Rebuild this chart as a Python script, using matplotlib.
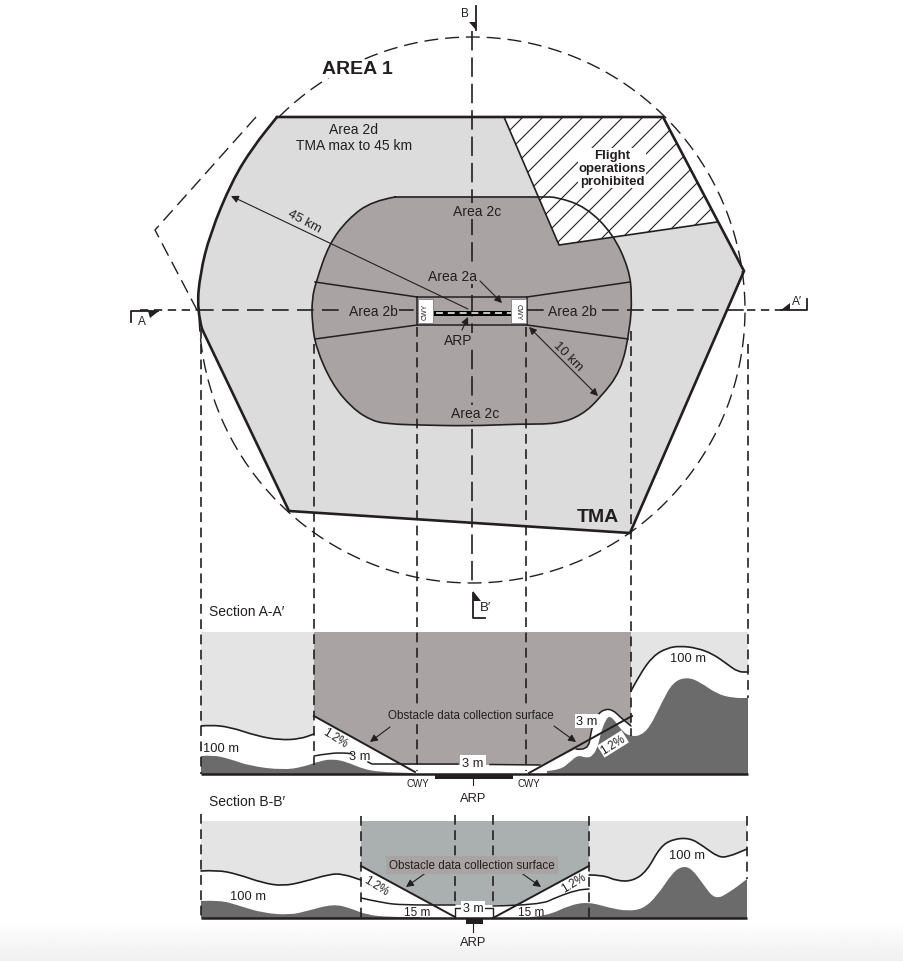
import matplotlib
matplotlib.use('Agg')
import matplotlib.pyplot as plt
import numpy as np
from matplotlib.path import Path
from matplotlib.patches import PathPatch

plt.rcParams['font.family'] = ['Liberation Sans', 'DejaVu Sans']
plt.rcParams['lines.scale_dashes'] = False

INK = '#231f20'
LIGHT = '#dcdcdc'
DARK = '#a9a3a3'
SECTION_LIGHT = '#e4e4e4'
SECTION_B_DARK = '#aab0b0'
TERRAIN = '#6b6b6b'

# plan view, read in image pixels
tma_x = [277, 663, 744, 630, 289, 202, 197, 200, 210, 232, 253, 277]
tma_y = [118, 118, 272, 534, 512, 330, 311, 275, 235, 182, 148, 118]
area1_x = [256, 155, 197]
area1_y = [118, 231, 311]
circle_cx, circle_cy, circle_r = 472, 311, 273
circle_from, circle_to = 225, 540
inner_x = [395, 372, 348, 329, 316, 312, 312, 316, 332, 352, 372, 390, 417, 470, 520, 558,
           582, 600, 621, 630, 632, 629, 613, 586, 557, 543, 395]
inner_y = [198, 202, 220, 245, 283, 300, 323, 349, 385, 409, 422, 425, 426, 427, 425, 425,
           416, 399, 372, 330, 297, 270, 235, 208, 198, 198, 198]
hatch_x = [504, 663, 717, 559]
hatch_y = [118, 118, 223, 246]
hatch_offsets = [x for x in range(541, 1000, 20)]

# section A-A'
a_top, a_base = 633, 775
a_left, a_in_l, a_cwy_l, a_cwy_r, a_in_r, a_right = 201, 314, 417, 526, 631, 748
a_h100_left_x = [201, 210, 230, 257, 280, 300, 314]
a_h100_left_y = [727, 726, 728, 737, 741, 740, 735]
a_ter_left_x = [201, 213, 230, 250, 283, 303, 320, 333, 347, 363, 380, 413]
a_ter_left_y = [757, 756, 760, 767, 771, 768, 762, 760, 763, 770, 773, 774]
a_3m_left_x = [314, 330, 347, 352]
a_3m_left_y = [757, 754, 754, 755]
a_h100_right_x = [631, 640, 653, 667, 680, 697, 713, 727, 738, 748]
a_h100_right_y = [692, 675, 657, 649, 647, 649, 655, 665, 673, 673]
a_ter_right_x = [547, 560, 570, 578, 586, 593, 598, 601, 606, 610, 615, 623, 630, 640, 650, 662,
                 673, 687, 700, 717, 733, 748]
a_ter_right_y = [772, 771, 763, 756, 759, 757, 747, 733, 720, 717, 722, 733, 737, 737, 728, 703,
                 683, 678, 683, 695, 699, 699]
a_band_x = [576, 588, 591, 594, 598, 605, 613, 620, 631]
a_band_y = [750, 752, 733, 722, 715, 710, 711, 718, 727]

# section B-B'
b_top, b_base = 822, 919
b_left, b_in_l, b_mid_l, b_mid_r, b_in_r, b_right = 201, 361, 455, 493, 589, 747
b_h100_left_x = [201, 217, 237, 263, 283, 303, 330, 343, 361]
b_h100_left_y = [872, 871, 875, 884, 887, 883, 875, 875, 881]
b_ter_left_x = [201, 220, 240, 263, 290, 307, 333, 350, 367, 390, 420]
b_ter_left_y = [902, 901, 907, 914, 916, 912, 905, 909, 916, 918, 918]
b_15m_left_x = [361, 383, 403, 455]
b_15m_left_y = [899, 904, 906, 906]
b_15m_right_x = [493, 540, 557, 577, 589]
b_15m_right_y = [907, 906, 898, 891, 890]
b_h100_right_x = [589, 603, 617, 633, 647, 660, 673, 690, 703, 718, 728, 747]
b_h100_right_y = [876, 876, 882, 882, 872, 848, 840, 839, 847, 858, 858, 850]
b_ter_right_x = [530, 547, 570, 589, 610, 627, 643, 657, 673, 683, 692, 703, 715, 730, 747]
b_ter_right_y = [918, 917, 906, 903, 909, 912, 910, 897, 873, 867, 870, 885, 901, 893, 880]


def curve(xs, ys):
    # read points act as quadratic bezier controls, gives smooth terrain lines
    pts = list(zip(xs, ys))
    verts = [pts[0]]
    codes = [Path.MOVETO]
    for i in range(1, len(pts) - 1):
        mid = ((pts[i][0] + pts[i + 1][0]) / 2, (pts[i][1] + pts[i + 1][1]) / 2)
        verts += [pts[i], mid]
        codes += [Path.CURVE3, Path.CURVE3]
    verts.append(pts[-1])
    codes.append(Path.LINETO)
    return verts, codes


def shape(ax, segments, color, z):
    verts, codes = [], []
    for xs, ys in segments:
        v, c = curve(xs, ys)
        if verts:
            c[0] = Path.LINETO
        verts += v
        codes += c
    verts.append(verts[0])
    codes.append(Path.CLOSEPOLY)
    ax.add_patch(PathPatch(Path(verts, codes), facecolor=color, edgecolor='none', zorder=z))


def stroke(ax, xs, ys, lw=1.1, z=6):
    v, c = curve(xs, ys)
    ax.add_patch(PathPatch(Path(v, c), facecolor='none', edgecolor=INK, lw=lw, zorder=z,
                           capstyle='round', joinstyle='round'))


def dashed(ax, xs, ys, on=7, off=4, lw=1.2, z=7):
    ax.plot(xs, ys, color=INK, lw=lw, linestyle=(0, (on, off)), zorder=z)


def arrow(ax, start, end, style='-|>', lw=0.8):
    ax.annotate('', xy=end, xytext=start, zorder=9,
                arrowprops=dict(arrowstyle=style, color=INK, lw=lw, shrinkA=0, shrinkB=0,
                                mutation_scale=11))


def label(ax, x, y, s, size=10, bg=None, rot=0, weight='normal', pad=1.0):
    box = dict(facecolor=bg, edgecolor='none', pad=pad) if bg else None
    ax.text(x, y, s, fontsize=size, color=INK, ha='center', va='center', rotation=rot,
            rotation_mode='anchor', fontweight=weight, bbox=box, zorder=10,
            linespacing=1.1)


def draw_plan(ax):
    ax.fill(tma_x, tma_y, color=LIGHT, lw=0, zorder=1)
    shape(ax, [(inner_x, inner_y)], DARK, 2)

    hatch_patch = ax.fill(hatch_x, hatch_y, facecolor='white', edgecolor='none', zorder=3)[0]
    for x0 in hatch_offsets:
        line, = ax.plot([x0, x0 - 170], [100, 270], color=INK, lw=0.8, zorder=4)
        line.set_clip_path(hatch_patch)
    ax.plot(hatch_x[:1] + hatch_x[3:] + hatch_x[2:3], hatch_y[:1] + hatch_y[3:] + hatch_y[2:3],
            color=INK, lw=1.2, zorder=5)

    stroke(ax, inner_x, inner_y, lw=1.2, z=5)
    ax.plot(tma_x[:6], tma_y[:6], color=INK, lw=1.9, zorder=6, solid_joinstyle='miter')
    stroke(ax, tma_x[5:], tma_y[5:], lw=1.9, z=6)

    t = np.radians(np.linspace(circle_from, circle_to, 400))
    dashed(ax, circle_cx + circle_r * np.cos(t), circle_cy + circle_r * np.sin(t),
           on=10, off=5, lw=1.0, z=5)
    dashed(ax, area1_x, area1_y, on=10, off=5, lw=1.0, z=5)

    # area 2a, 2b
    ax.plot([417, 527, 527, 417, 417], [298, 298, 326, 326, 298], color=INK, lw=1.1, zorder=5)
    ax.plot([315, 417], [283, 298], color=INK, lw=1.1, zorder=5)
    ax.plot([315, 417], [340, 326], color=INK, lw=1.1, zorder=5)
    ax.plot([630, 527], [283, 298], color=INK, lw=1.1, zorder=5)
    ax.plot([628, 527], [340, 326], color=INK, lw=1.1, zorder=5)

    # centre lines
    dashed(ax, [140, 197], [311, 311], on=6, off=4, z=5)
    dashed(ax, [197, 417], [311, 311], on=12, off=6, z=5)
    dashed(ax, [527, 747], [311, 311], on=12, off=6, z=5)
    dashed(ax, [747, 782], [311, 311], on=6, off=4, z=5)
    dashed(ax, [472, 472], [32, 298], on=14, off=5, z=5)
    dashed(ax, [472, 472], [298, 584], on=14, off=5, z=5)

    # runway and clearways
    ax.plot([433, 511], [313.5, 313.5], color='black', lw=3.6, zorder=7, solid_capstyle='butt')
    ax.plot([436, 511], [313.5, 313.5], color='white', lw=1.1, linestyle=(0, (5, 3.5)), zorder=8)
    for x0, rot in [(425.5, 90), (518.5, -90)]:
        ax.text(x0, 312, 'CWY', fontsize=5, color=INK, ha='center', va='center', rotation=rot, zorder=10,
                bbox=dict(facecolor='white', edgecolor='#8a8a8a', lw=0.7,
                          boxstyle='square,pad=0.55'))

    # section markers
    ax.plot([158, 131, 131], [312, 312, 323], color=INK, lw=1.3, zorder=7)
    ax.fill([148, 159, 150], [312, 312, 319], color=INK, lw=0, zorder=7)
    label(ax, 142, 322, 'A', size=8.5)
    ax.plot([781, 807, 807], [311, 311, 300], color=INK, lw=1.3, zorder=7)
    ax.fill([781, 790, 790], [311, 311, 304], color=INK, lw=0, zorder=7)
    label(ax, 797, 302, 'A′', size=8.5)
    ax.plot([476, 476], [7, 31], color=INK, lw=1.3, zorder=7)
    ax.fill([469, 476, 476], [23, 23, 31], color=INK, lw=0, zorder=7)
    label(ax, 465, 14, 'B', size=8.5)
    ax.plot([485, 473, 473], [619, 619, 594], color=INK, lw=1.3, zorder=7)
    ax.fill([473, 481, 473], [602, 602, 592], color=INK, lw=0, zorder=7)
    label(ax, 486, 608, 'B′', size=9.5)

    label(ax, 357, 70, 'AREA 1', size=14, weight='bold', bg='white', pad=0.5)
    label(ax, 598, 518, 'TMA', size=14, weight='bold')
    label(ax, 354, 138, 'Area 2d\nTMA max to 45 km', size=10)
    label(ax, 612, 169, 'Flight\noperations\nprohibited', size=9.5, weight='bold', bg='white', pad=0.5)
    label(ax, 477, 212, 'Area 2c', bg=DARK)
    label(ax, 475, 414, 'Area 2c', bg=DARK)
    label(ax, 453, 277, 'Area 2a', bg=DARK)
    label(ax, 373, 312, 'Area 2b', bg=DARK)
    label(ax, 572, 312, 'Area 2b', bg=DARK)
    label(ax, 458, 341, 'ARP', bg=DARK, size=10, pad=0.3)
    label(ax, 304, 222, '45 km', size=9.5, rot=-28)
    label(ax, 568, 357, '10 km', size=9.5, rot=-45)

    arrow(ax, (468, 310), (231, 197))
    arrow(ax, (480, 282), (502, 304))
    arrow(ax, (462, 331), (468, 318))
    arrow(ax, (529, 328), (598, 397), style='<|-|>')


def draw_section_a(ax):
    ax.fill([a_left, a_in_l, a_in_l, a_left], [a_top, a_top, a_base, a_base], color=SECTION_LIGHT, lw=0, zorder=1)
    ax.fill([a_in_r, a_right, a_right, a_in_r], [a_top, a_top, a_base, a_base], color=SECTION_LIGHT, lw=0, zorder=1)
    ax.fill([a_in_l, a_in_r, a_in_r, a_in_l], [a_top, a_top, a_base, a_base], color=DARK, lw=0, zorder=1)

    # white clearance under the surfaces
    shape(ax, [(a_h100_left_x, a_h100_left_y), ([a_in_l, a_left], [a_base, a_base])], 'white', 2)
    shape(ax, [(a_h100_right_x, a_h100_right_y), ([a_right, a_in_r], [a_base, a_base])], 'white', 2)
    shape(ax, [([314, 402], [717, 766]), ([402, 543], [766, 766]), ([543, 576], [766, 750]),
               (a_band_x, a_band_y), ([631, 314], [a_base, a_base])], 'white', 2)

    shape(ax, [(a_ter_left_x, a_ter_left_y), ([a_ter_left_x[-1], a_left], [a_base, a_base])], TERRAIN, 3)
    shape(ax, [(a_ter_right_x, a_ter_right_y), ([a_right, a_ter_right_x[0]], [a_base, a_base])], TERRAIN, 3)

    stroke(ax, a_h100_left_x, a_h100_left_y, lw=1.2)
    stroke(ax, a_h100_right_x, a_h100_right_y, lw=1.2)
    stroke(ax, a_3m_left_x, a_3m_left_y, lw=1.1)
    stroke(ax, a_band_x, a_band_y, lw=1.1)
    ax.plot([314, 415], [717, 773], color=INK, lw=1.4, zorder=6)
    ax.plot([529, 632], [774, 717], color=INK, lw=1.4, zorder=6)
    ax.plot([368, 372, 458], [763, 765, 765], color=INK, lw=1.1, zorder=6)
    ax.plot([490, 540], [765.5, 766], color=INK, lw=1.1, zorder=6)
    ax.plot([a_left, a_right], [a_base, a_base], color=INK, lw=1.8, zorder=7, solid_capstyle='butt')
    ax.fill([435, 513, 513, 435], [775, 775, 780, 780], color=INK, lw=0, zorder=7)
    ax.plot([473, 473], [780, 786], color=INK, lw=0.8, zorder=7)

    dashed(ax, [a_left, a_left], [330, a_base])
    dashed(ax, [a_in_l, a_in_l], [345, 766])
    dashed(ax, [a_cwy_l, a_cwy_l], [328, 772])
    dashed(ax, [a_cwy_r, a_cwy_r], [328, 772])
    dashed(ax, [a_in_r, a_in_r], [332, 737])
    dashed(ax, [a_right, a_right], [345, 699])

    label(ax, 247, 612, 'Section A-A′', size=10)
    label(ax, 471, 716, 'Obstacle data collection surface', size=8.4, bg=DARK, pad=0.5)
    label(ax, 221, 749, '100 m', size=9.3)
    label(ax, 688, 659, '100 m', size=9.3)
    label(ax, 360, 757, '3 m', size=9.3)
    label(ax, 473, 764, '3 m', size=9.3, bg='white', pad=1.5)
    label(ax, 587, 722, '3 m', size=9.3, bg='white', pad=1)
    label(ax, 335, 739, '1.2%', size=8.5, rot=-32)
    label(ax, 613, 745, '1.2%', size=8.5, rot=32, bg='white', pad=0.8)
    label(ax, 418, 784, 'CWY', size=7)
    label(ax, 529, 784, 'CWY', size=7)
    label(ax, 473, 799, 'ARP', size=9.3)
    arrow(ax, (390, 728), (370, 743))
    arrow(ax, (554, 727), (576, 743))


def draw_section_b(ax):
    ax.fill([b_left, b_in_l, b_in_l, b_left], [b_top, b_top, b_base, b_base], color=SECTION_LIGHT, lw=0, zorder=1)
    ax.fill([b_in_r, b_right, b_right, b_in_r], [b_top, b_top, b_base, b_base], color=SECTION_LIGHT, lw=0, zorder=1)
    ax.fill([b_in_l, b_in_r, b_in_r, b_in_l], [b_top, b_top, b_base, b_base], color=SECTION_B_DARK, lw=0, zorder=1)

    shape(ax, [(b_h100_left_x, b_h100_left_y), ([b_in_l, b_left], [b_base, b_base])], 'white', 2)
    shape(ax, [(b_h100_right_x, b_h100_right_y), ([b_right, b_in_r], [b_base, b_base])], 'white', 2)
    ax.fill([361, 433, 517, 589, 589, 361], [867, 906, 906, 867, b_base, b_base], color='white', lw=0, zorder=2)

    shape(ax, [(b_ter_left_x, b_ter_left_y), ([b_ter_left_x[-1], b_left], [b_base, b_base])], TERRAIN, 3)
    shape(ax, [(b_ter_right_x, b_ter_right_y), ([b_right, b_ter_right_x[0]], [b_base, b_base])], TERRAIN, 3)

    stroke(ax, b_h100_left_x, b_h100_left_y, lw=1.2)
    stroke(ax, b_h100_right_x, b_h100_right_y, lw=1.2)
    stroke(ax, b_15m_left_x, b_15m_left_y, lw=1.1)
    stroke(ax, b_15m_right_x, b_15m_right_y, lw=1.1)
    ax.plot([361, 455], [867, 918], color=INK, lw=1.4, zorder=6)
    ax.plot([493, 589], [919, 867], color=INK, lw=1.4, zorder=6)
    ax.plot([455, 455, 463], [b_base, 909, 909], color=INK, lw=1.0, zorder=6)
    ax.plot([485, 493, 493], [909, 909, b_base], color=INK, lw=1.0, zorder=6)
    ax.plot([b_left, b_right], [b_base, b_base], color=INK, lw=1.8, zorder=7, solid_capstyle='butt')
    ax.fill([466, 483, 483, 466], [919, 919, 925, 925], color=INK, lw=0, zorder=7)
    ax.plot([473, 473], [925, 933], color=INK, lw=0.8, zorder=7)

    dashed(ax, [b_left, b_left], [815, b_base])
    dashed(ax, [b_in_l, b_in_l], [817, b_base])
    dashed(ax, [b_mid_l, b_mid_l], [816, 906])
    dashed(ax, [b_mid_r, b_mid_r], [816, 906])
    dashed(ax, [b_in_r, b_in_r], [817, b_base])
    dashed(ax, [b_right, b_right], [817, 880])

    label(ax, 247, 802, 'Section B-B′', size=10)
    label(ax, 472, 866, 'Obstacle data collection surface', size=8.4, bg=DARK, pad=2)
    label(ax, 248, 897, '100 m', size=9.3)
    label(ax, 687, 856, '100 m', size=9.3)
    label(ax, 417, 913, '15 m', size=8.5)
    label(ax, 531, 913, '15 m', size=8.5)
    label(ax, 473, 909, '3 m', size=9, bg='white', pad=1)
    label(ax, 376, 887, '1.2%', size=8.5, rot=-32)
    label(ax, 574, 883, '1.2%', size=8.5, rot=32)
    label(ax, 473, 943, 'ARP', size=9.3)
    arrow(ax, (427, 873), (406, 888))
    arrow(ax, (520, 873), (541, 888))


def main():
    fig = plt.figure(figsize=(9.04, 9.62), dpi=100)
    ax = fig.add_axes([0, 0, 1, 1])

    # screenshot fades to grey at the bottom
    fade = np.linspace(1.0, 0.94, 40).reshape(-1, 1)
    ax.imshow(fade, cmap='gray', vmin=0, vmax=1, extent=(0, 904, 962, 922), aspect='auto', zorder=0)
    ax.set_xlim(0, 904)
    ax.set_ylim(962, 0)
    ax.axis('off')

    draw_plan(ax)
    draw_section_a(ax)
    draw_section_b(ax)

    fig.savefig('out.png', dpi=100)
    plt.close(fig)


if __name__ == '__main__':
    main()
